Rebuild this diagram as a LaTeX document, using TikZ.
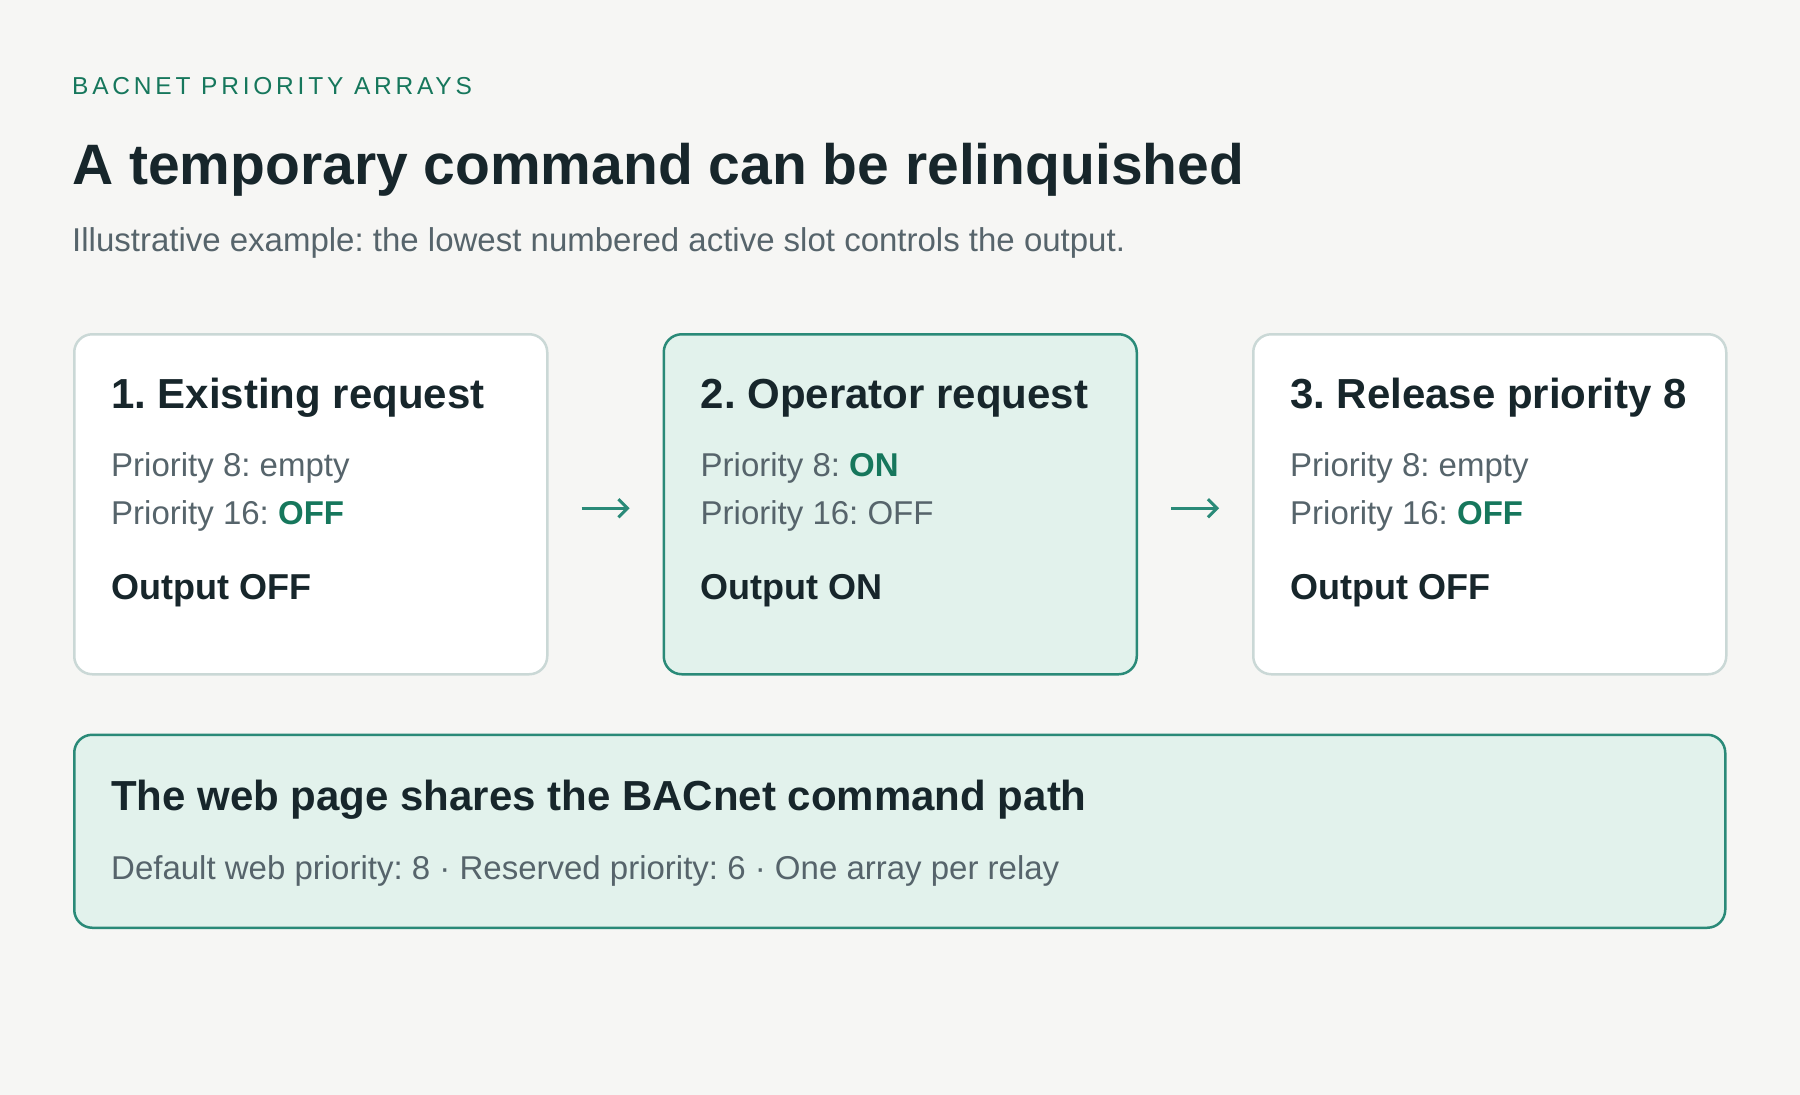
\documentclass[tikz,border=0pt]{standalone}
\usepackage{fontspec}
\setmainfont{Liberation Sans}
\newfontfamily\kickerfont[LetterSpace=15.5]{Liberation Sans}
\usetikzlibrary{positioning, arrows.meta}
\frenchspacing

\begin{document}
\begin{tikzpicture}[
  x=1pt, y=-1pt,
  every node/.style={
    inner sep=0pt,
    anchor=base west,
  },
  card/.style={
    draw=cardline,
    fill=white,
    line width=2.5pt,
    rounded corners=18pt,
    minimum width=473pt,
    minimum height=340pt,
    anchor=north west,
  },
  activecard/.style={card, draw=accent, fill=mint},
  note/.style={card, draw=accent, fill=mint, minimum width=1651pt, minimum height=193pt},
  head/.style={font=\fontsize{42}{50}\selectfont\bfseries, text=ink},
  slot/.style={font=\fontsize{33}{40}\selectfont, text=slate},
  result/.style={font=\fontsize{36}{43}\selectfont\bfseries, text=ink},
  flow/.style={
    draw=accent,
    line width=3pt,
    -{Straight Barb[length=9pt, width=18pt]},
    shorten >=33pt,
    shorten <=33pt,
  },
]
  \definecolor{bgpaper}{HTML}{F6F6F4}
  \definecolor{cardline}{HTML}{CAD8D6}
  \definecolor{accent}{HTML}{2A8A78}
  \definecolor{mint}{HTML}{E2F2EC}
  \definecolor{ink}{HTML}{17262B}
  \definecolor{slate}{HTML}{56646B}
  \definecolor{okgreen}{HTML}{16775C}

  \fill[bgpaper] (0,0) rectangle (1800,1095);
  \useasboundingbox (0,0) rectangle (1800,1095);

  % heading
  \node[font=\kickerfont\fontsize{24.5}{29}\selectfont, text=okgreen] (kicker) at (72,94) {BACNET PRIORITY ARRAYS};
  \node[font=\fontsize{57}{68}\selectfont\bfseries, text=ink] (title) at (72,184) {A temporary command can be relinquished};
  \node[font=\fontsize{33}{40}\selectfont, text=slate] (subtitle) at (72,251)
    {Illustrative example: the lowest numbered active slot controls the output.};

  % the three steps
  \node[card] (b1) at (73,333) {};
  \node[activecard, right=114pt of b1] (b2) {};
  \node[card, right=114pt of b2] (b3) {};

  \node[head] (h1) at ([shift={(38pt,-75pt)}]b1.north west) {1. Existing request};
  \node[slot] (s1a) at ([yshift=-68pt]h1.base west) {Priority 8: empty};
  \node[slot] (s1b) at ([yshift=-48pt]s1a.base west) {Priority 16: \textbf{\color{okgreen}OFF}};
  \node[result] (o1) at ([yshift=-75pt]s1b.base west) {Output OFF};

  \node[head] (h2) at ([shift={(38pt,-75pt)}]b2.north west) {2. Operator request};
  \node[slot] (s2a) at ([yshift=-68pt]h2.base west) {Priority 8: \textbf{\color{okgreen}ON}};
  \node[slot] (s2b) at ([yshift=-48pt]s2a.base west) {Priority 16: OFF};
  \node[result] (o2) at ([yshift=-75pt]s2b.base west) {Output ON};

  \node[head] (h3) at ([shift={(38pt,-75pt)}]b3.north west) {3. Release priority 8};
  \node[slot] (s3a) at ([yshift=-68pt]h3.base west) {Priority 8: empty};
  \node[slot] (s3b) at ([yshift=-48pt]s3a.base west) {Priority 16: \textbf{\color{okgreen}OFF}};
  \node[result] (o3) at ([yshift=-75pt]s3b.base west) {Output OFF};

  \draw[flow] ([yshift=-4pt]b1.east) -- ([yshift=-4pt]b2.west);
  \draw[flow] ([yshift=-4pt]b2.east) -- ([yshift=-4pt]b3.west);

  % shared path note
  \node[note, below=58pt of b1.south west, anchor=north west] (web) {};
  \node[head] (wh) at ([shift={(38pt,-77pt)}]web.north west) {The web page shares the BACnet command path};
  \node[slot] (ws) at ([yshift=-69pt]wh.base west)
    {Default web priority: 8 · Reserved priority: 6 · One array per relay};
\end{tikzpicture}
\end{document}
